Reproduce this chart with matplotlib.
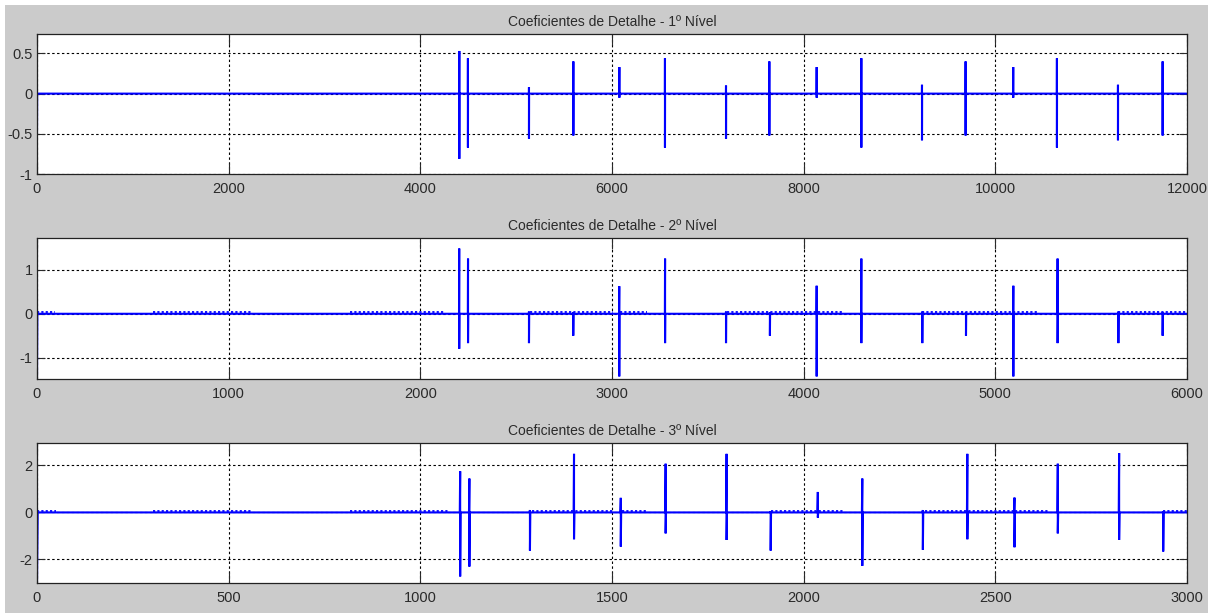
import matplotlib
matplotlib.use('Agg')
import matplotlib.pyplot as plt
import numpy as np

# detail coefficients, level 1 (12000 samples)
pos1 = [4407, 4497, 5134, 5597, 6077, 6553, 7190, 7642, 8136, 8602, 9235, 9690, 10187, 10643, 11280, 11746]
top1 = [0.53, 0.44, 0.08, 0.40, 0.33, 0.44, 0.10, 0.40, 0.33, 0.44, 0.11, 0.40, 0.33, 0.44, 0.11, 0.40]
bot1 = [-0.81, -0.67, -0.56, -0.52, -0.05, -0.67, -0.56, -0.52, -0.05, -0.67, -0.58, -0.52, -0.05, -0.67, -0.58, -0.52]
start1 = [0.10, -0.50]
rip1_start = []
rip1_end = []

# level 2 (6000 samples)
pos2 = [2203, 2249, 2567, 2798, 3038, 3277, 3595, 3824, 4068, 4301, 4619, 4847, 5094, 5325, 5642, 5873]
top2 = [1.49, 1.26, 0.05, 0.03, 0.63, 1.26, 0.05, 0.03, 0.64, 1.26, 0.05, 0.03, 0.64, 1.26, 0.05, 0.03]
bot2 = [-0.80, -0.67, -0.67, -0.50, -1.43, -0.67, -0.67, -0.50, -1.43, -0.67, -0.67, -0.50, -1.43, -0.67, -0.67, -0.50]
start2 = [1.73, -1.49]
rip2_start = [0, 607, 1633, 2572, 3042, 3600, 4619, 5094, 5642]
rip2_end = [94, 1122, 2129, 3005, 3183, 4200, 5094, 5222, 6000]

# level 3 (3000 samples)
pos3 = [1104, 1128, 1286, 1401, 1523, 1640, 1799, 1914, 2037, 2153, 2311, 2427, 2550, 2663, 2823, 2938]
top3 = [1.75, 1.44, 0.10, 2.49, 0.62, 2.07, 2.49, 0.05, 0.87, 1.44, 0.10, 2.49, 0.63, 2.07, 2.52, 0.05]
bot3 = [-2.72, -2.30, -1.62, -1.14, -1.45, -0.89, -1.17, -1.62, -0.22, -2.27, -1.59, -1.14, -1.48, -0.89, -1.17, -1.66]
start3 = [2.95, -3.00]
rip3_start = [0, 303, 817, 1291, 1526, 1914, 2317, 2551, 2938]
rip3_end = [50, 561, 1072, 1503, 1591, 2103, 2546, 2637, 3000]

titles = ['Coeficientes de Detalhe - 1º Nível',
          'Coeficientes de Detalhe - 2º Nível',
          'Coeficientes de Detalhe - 3º Nível']
lengths = [12000, 6000, 3000]
ylims = [(-1.0, 0.74), (-1.49, 1.73), (-3.0, 2.95)]
yticks = [[-1, -0.5, 0, 0.5], [-1, 0, 1], [-2, 0, 2]]
ripple_amp = [0.0, 0.03, 0.06]

levels = [(pos1, top1, bot1, start1, rip1_start, rip1_end),
          (pos2, top2, bot2, start2, rip2_start, rip2_end),
          (pos3, top3, bot3, start3, rip3_start, rip3_end)]


def build_trace(pos, top, bot, start, n):
    # zero line with each spike drawn as top -> bottom -> back to zero
    xs = [0, 0, 2]
    ys = [start[0], start[1], 0.0]
    for p, t, b in zip(pos, top, bot):
        xs += [p - 1, p, p, p + 1]
        ys += [0.0, t, b, 0.0]
    xs.append(n)
    ys.append(0.0)
    return np.array(xs), np.array(ys)


plt.rcParams['font.family'] = ['Liberation Sans', 'DejaVu Sans']
fig = plt.figure(figsize=(12.08, 6.13), dpi=100, facecolor='white')
fig.patches.append(plt.Rectangle((5 / 1208, 0), 1, 1 - 5 / 613, transform=fig.transFigure,
                                 facecolor='#cbcbcb', edgecolor='none', zorder=-10))

boxes = [[0.0306, 0.716, 0.952, 0.2284],
         [0.0306, 0.3817, 0.952, 0.2300],
         [0.0306, 0.0489, 0.952, 0.2284]]

for k in range(3):
    pos, top, bot, start, rs, re = levels[k]
    ax = fig.add_axes(boxes[k])
    ax.set_facecolor('white')
    x, y = build_trace(pos, top, bot, start, lengths[k])
    ax.plot(x, y, color='#0000ff', lw=1.5, solid_joinstyle='miter')
    if rs:
        ax.hlines([ripple_amp[k]] * len(rs), rs, re, colors='#0000ff', lw=1.3,
                  linestyles=(0, (1.2, 1.2)))
    ax.set_xlim(0, lengths[k])
    ax.set_ylim(*ylims[k])
    ax.set_yticks(yticks[k])
    ax.set_yticklabels([('%g' % v) for v in yticks[k]])
    ax.grid(True, color='black', lw=0.8, linestyle=(0, (2.2, 2.2)))
    ax.tick_params(direction='in', top=True, right=True, labelsize=10.5, colors='#2a2a2a',
                   length=8, width=0.8)
    ax.tick_params(axis='x', pad=6)
    ax.tick_params(axis='y', pad=3, length=6)
    for s in ax.spines.values():
        s.set_color('#222222')
        s.set_linewidth(0.9)
    ax.set_title(titles[k], fontsize=10, color='#2a2a2a', pad=6)

plt.savefig('out.png', dpi=100, facecolor=fig.get_facecolor())
